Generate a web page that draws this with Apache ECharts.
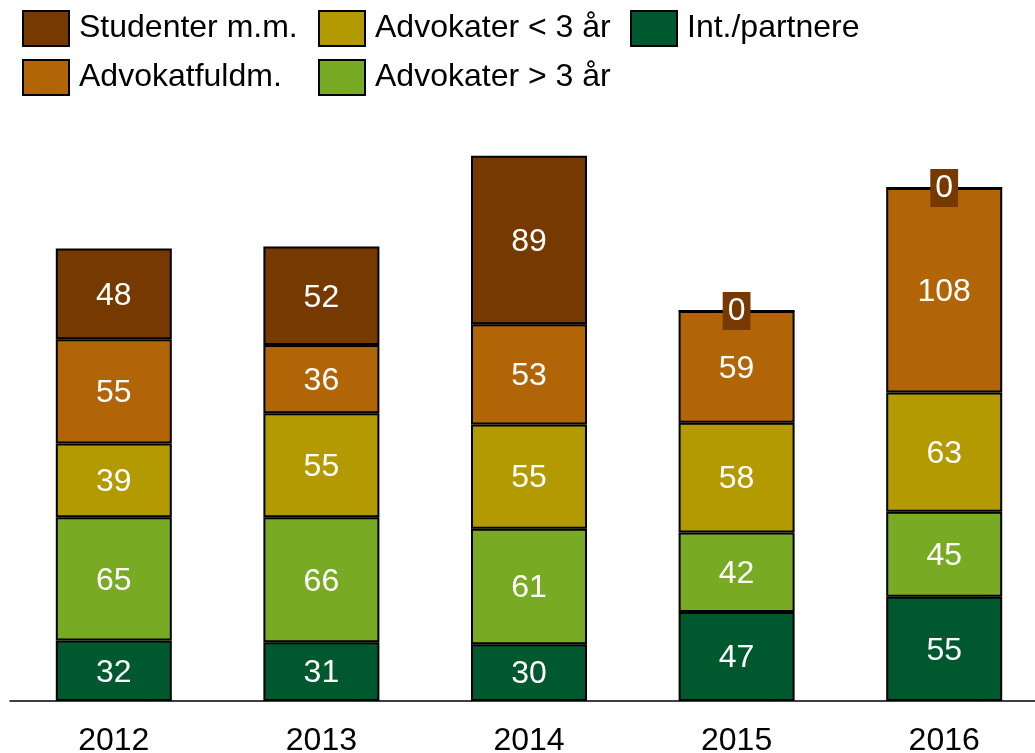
<!DOCTYPE html>
<html>
<head>
<meta charset="utf-8">
<script src="https://cdn.jsdelivr.net/npm/echarts@6/dist/echarts.min.js"></script>
<style>
html,body{margin:0;padding:0;background:#fff;}
#main{width:1035px;height:753px;}
</style>
</head>
<body>
<div id="main"></div>
<script>
const years = ['2012', '2013', '2014', '2015', '2016'];
const intPartnere = [32, 31, 30, 47, 55];
const advOver3 = [65, 66, 61, 42, 45];
const advUnder3 = [39, 55, 55, 58, 63];
const advokatfuldm = [55, 36, 53, 59, 108];
const studenter = [48, 52, 89, 0, 0];

const seriesNames = ['Int./partnere', 'Advokater > 3 år', 'Advokater < 3 år', 'Advokatfuldm.', 'Studenter m.m.'];
const seriesValues = [intPartnere, advOver3, advUnder3, advokatfuldm, studenter];
const colors = ['#00582f', '#79aa24', '#b29a00', '#b26506', '#763900'];

const FONT = "'Liberation Sans', Arial, sans-serif";

const chart = echarts.init(document.getElementById('main'), null, {renderer: 'canvas'});

const series = seriesNames.map((name, i) => ({
  name: name,
  type: 'bar',
  stack: 'total',
  barWidth: 116,
  itemStyle: {color: colors[i], borderColor: '#000', borderWidth: 2},
  label: {
    show: true,
    position: 'inside',
    offset: [0, 2],
    color: '#fff',
    fontSize: 32,
    fontFamily: FONT
  },
  emphasis: {disabled: true},
  data: seriesValues[i].map(v => v === 0 ? {
    value: v,
    label: {backgroundColor: colors[i], padding: [3, 5], offset: [0, 0]}
  } : v)
}));

const legendCommon = {
  orient: 'vertical',
  top: 5,
  itemWidth: 46,
  itemHeight: 35,
  itemGap: 12,
  icon: 'rect',
  selectedMode: false,
  itemStyle: {borderColor: '#000', borderWidth: 2},
  textStyle: {fontSize: 32, color: '#000', fontFamily: FONT, padding: [4, 0, 0, 5]}
};

chart.setOption({
  animation: false,
  backgroundColor: '#fff',
  legend: [
    Object.assign({}, legendCommon, {left: 17, data: ['Studenter m.m.', 'Advokatfuldm.']}),
    Object.assign({}, legendCommon, {left: 313, data: ['Advokater < 3 år', 'Advokater > 3 år']}),
    Object.assign({}, legendCommon, {left: 625, data: ['Int./partnere']})
  ],
  grid: {left: 10, width: 1038, top: 133, bottom: 52, containLabel: false, outerBoundsMode: 'none'},
  xAxis: {
    type: 'category',
    data: years,
    axisLine: {lineStyle: {color: '#000', width: 1.5}},
    axisTick: {show: false},
    axisLabel: {color: '#000', fontSize: 32, fontFamily: FONT, margin: 24}
  },
  yAxis: {
    type: 'value',
    min: 0,
    max: 300,
    show: false,
    splitLine: {show: false}
  },
  series: series
});
</script>
</body>
</html>
